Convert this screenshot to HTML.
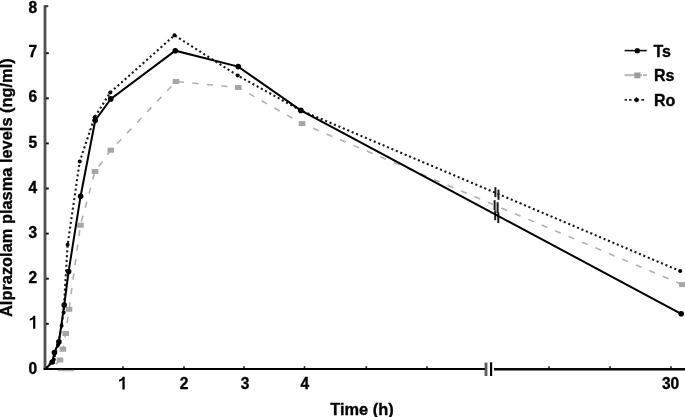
<!DOCTYPE html>
<html><head><meta charset="utf-8">
<style>
html,body{margin:0;padding:0;background:#fff;width:685px;height:417px;overflow:hidden}
svg{display:block;filter:blur(0.65px)}
text{font-family:"Liberation Sans",sans-serif;font-weight:bold;fill:#000;stroke:#000;stroke-width:0.35px}
</style></head>
<body>
<svg width="685" height="417" viewBox="0 0 685 417">
<line x1="45" y1="5.2" x2="45" y2="369" stroke="#525252" stroke-width="2.8"/>
<line x1="45" y1="6.2" x2="48.3" y2="6.2" stroke="#3a3a3a" stroke-width="2"/>
<line x1="43.5" y1="369" x2="485" y2="369" stroke="#000" stroke-width="2.2"/>
<line x1="494" y1="369.3" x2="685" y2="369.3" stroke="#080808" stroke-width="2.6"/>
<line x1="486" y1="362.6" x2="486" y2="376" stroke="#5a5a5a" stroke-width="2.8"/>
<line x1="491.1" y1="362.3" x2="491.1" y2="376" stroke="#000" stroke-width="2.2"/>
<g stroke="#111" stroke-width="1.9">
<line x1="46" y1="323.8" x2="48.8" y2="323.8"/>
<line x1="46" y1="278.7" x2="48.8" y2="278.7"/>
<line x1="46" y1="233.6" x2="48.8" y2="233.6"/>
<line x1="46" y1="188.5" x2="48.8" y2="188.5"/>
<line x1="46" y1="143.4" x2="48.8" y2="143.4"/>
<line x1="46" y1="98.3" x2="48.8" y2="98.3"/>
<line x1="46" y1="53.2" x2="48.8" y2="53.2"/>
</g>
<g stroke="#222" stroke-width="1.6">
<line x1="123" y1="366.2" x2="123" y2="368"/>
<line x1="184" y1="366.2" x2="184" y2="368"/>
<line x1="244" y1="366.2" x2="244" y2="368"/>
<line x1="304.5" y1="366.2" x2="304.5" y2="368"/>
<line x1="366.3" y1="366.2" x2="366.3" y2="368"/>
<line x1="427" y1="366.2" x2="427" y2="368"/>
<line x1="549" y1="366.2" x2="549" y2="368"/>
<line x1="610" y1="366.2" x2="610" y2="368"/>
<line x1="671" y1="366.2" x2="671" y2="368"/>
</g>
<g font-size="15.5">
<text transform="translate(37.2,373.55) scale(1,1.09)" text-anchor="end">0</text>
<path d="M33.10,328.80 L35.30,328.80 L35.30,315.80 L33.40,315.80 C32.90,317.40 31.50,318.40 29.70,318.70 L29.70,320.50 C31.30,320.40 32.50,319.80 33.10,319.10 Z"/>
<text transform="translate(37.2,282.85) scale(1,1.09)" text-anchor="end">2</text>
<text transform="translate(37.2,237.75) scale(1,1.09)" text-anchor="end">3</text>
<text transform="translate(37.2,192.65) scale(1,1.09)" text-anchor="end">4</text>
<text transform="translate(37.2,147.55) scale(1,1.09)" text-anchor="end">5</text>
<text transform="translate(37.2,102.45) scale(1,1.09)" text-anchor="end">6</text>
<text transform="translate(37.2,57.35) scale(1,1.09)" text-anchor="end">7</text>
<text transform="translate(37.2,12.95) scale(1,1.09)" text-anchor="end">8</text>
<path d="M122.40,389.45 L124.70,389.45 L124.70,376.75 L122.70,376.75 C122.20,378.35 120.80,379.35 119.00,379.65 L119.00,381.45 C120.60,381.35 121.80,380.75 122.40,380.05 Z"/>
<text transform="translate(184.1,389.05) scale(1,1.09)" text-anchor="middle">2</text>
<text transform="translate(245.1,389.05) scale(1,1.09)" text-anchor="middle">3</text>
<text transform="translate(304.7,389.05) scale(1,1.09)" text-anchor="middle">4</text>
<text transform="translate(670.5,389.05) scale(1,1.09)" text-anchor="middle">30</text>
</g>
<text transform="translate(330.2,414.6) scale(1,1.06)" font-size="16.4">Time (h)</text>
<text transform="translate(11.9,317) rotate(-90)" font-size="16.4">Alprazolam plasma levels (ng/ml)</text>
<line x1="58" y1="370.6" x2="74" y2="370.6" stroke="#b4b4b4" stroke-width="1.4"/>
<g stroke="#1a1a1a" stroke-width="2">
<line x1="495.4" y1="187.2" x2="495.4" y2="197.2"/><line x1="498.5" y1="189.6" x2="498.5" y2="199.8"/>
<line x1="494.6" y1="200.2" x2="494.6" y2="210.2"/><line x1="497.6" y1="202.2" x2="497.6" y2="213"/>
<line x1="495.2" y1="210.4" x2="495.2" y2="220.2"/><line x1="498.3" y1="212.4" x2="498.3" y2="223"/>
</g>
<polyline fill="none" stroke="#b0b0b0" stroke-width="1.6" stroke-dasharray="6.2,8.4" stroke-dashoffset="5.94" points="48,368 55,365 60,360 62.9,349.2 65.7,333.5 69,309.3 80.4,225.2 95,171.5 110.8,150.2 176,81.5 238.2,87.5 302,123.6 682.3,284.6"/>
<polyline fill="none" stroke="#1a1a1a" stroke-width="2.1" stroke-dasharray="2.1,2.7" stroke-dashoffset="0.20" points="46,368 53.8,359.5 58,345 61.6,325.8 63.6,312.5 67.6,244.8 79.7,161.6 94.6,117.2 110.2,92.6 174.5,35.3 237.8,75.6 300,110 680.2,271.1"/>
<polyline fill="none" stroke="#000" stroke-width="2.0" points="46.5,368 52.3,362 54.4,352.6 58.9,341.9 64.2,305 68.6,271.6 80.6,196.2 95.2,120.5 110.8,98.9 175.3,50.7 238.2,66.6 300.8,110.4 681.2,313.8"/>
<g fill="#a6a6a6">
<rect x="56.7" y="357.5" width="6.6" height="5"/>
<rect x="59.6" y="346.7" width="6.6" height="5"/>
<rect x="62.4" y="331.0" width="6.6" height="5"/>
<rect x="65.7" y="306.8" width="6.6" height="5"/>
<rect x="77.1" y="222.7" width="6.6" height="5"/>
<rect x="91.7" y="169.0" width="6.6" height="5"/>
<rect x="107.5" y="147.7" width="6.6" height="5"/>
<rect x="172.7" y="79.0" width="6.6" height="5"/>
<rect x="234.9" y="85.0" width="6.6" height="5"/>
<rect x="298.7" y="121.1" width="6.6" height="5"/>
<rect x="679.0" y="282.1" width="6.6" height="5"/>
</g><g fill="#000">
<circle cx="53.8" cy="359.5" r="2"/>
<circle cx="58" cy="345" r="2"/>
<circle cx="61.6" cy="325.8" r="2"/>
<circle cx="63.6" cy="312.5" r="2"/>
<circle cx="67.6" cy="244.8" r="2"/>
<circle cx="79.7" cy="161.6" r="2"/>
<circle cx="94.6" cy="117.2" r="2"/>
<circle cx="110.2" cy="92.6" r="2"/>
<circle cx="174.5" cy="35.3" r="2"/>
<circle cx="237.8" cy="75.6" r="2"/>
<circle cx="680.2" cy="271.1" r="2"/>
</g><g fill="#000">
<circle cx="52.3" cy="362" r="2.8"/>
<circle cx="54.4" cy="352.6" r="2.8"/>
<circle cx="58.9" cy="341.9" r="2.8"/>
<circle cx="64.2" cy="305" r="2.8"/>
<circle cx="68.6" cy="271.6" r="2.8"/>
<circle cx="80.6" cy="196.2" r="2.8"/>
<circle cx="95.2" cy="120.5" r="2.8"/>
<circle cx="110.8" cy="98.9" r="2.8"/>
<circle cx="175.3" cy="50.7" r="2.8"/>
<circle cx="238.2" cy="66.6" r="2.8"/>
<circle cx="300.8" cy="110.4" r="2.8"/>
<circle cx="681.2" cy="313.8" r="2.8"/>
</g>
<line x1="624.6" y1="50.6" x2="646.7" y2="50.6" stroke="#111" stroke-width="1.6"/>
<rect x="634.8" y="48.3" width="5" height="5" rx="1.5" fill="#000"/>
<path d="M624.6,75.1 H641.9 M643,75.1 H646.9" stroke="#bdbdbd" stroke-width="2.2"/>
<rect x="634.3" y="72.5" width="6.1" height="5.8" fill="#9c9c9c"/>
<path d="M624.6,99.9 H627 M629,99.9 H631.6 M641.3,99.9 H644.2" stroke="#2a2a2a" stroke-width="1.9"/>
<path d="M636.5,97 L639.2,99.9 L636.5,102.6 L633.8,99.9 Z" fill="#000"/><rect x="634.6" y="98.4" width="4" height="3" fill="#000"/>
<g font-size="16.0">
<text transform="translate(653.5,56.72) scale(1,1.05)">Ts</text>
<text transform="translate(654.0,81.22) scale(1,1.05)">Rs</text>
<text transform="translate(654.0,106.02) scale(1,1.05)">Ro</text>
</g>
</svg>
</body></html>
